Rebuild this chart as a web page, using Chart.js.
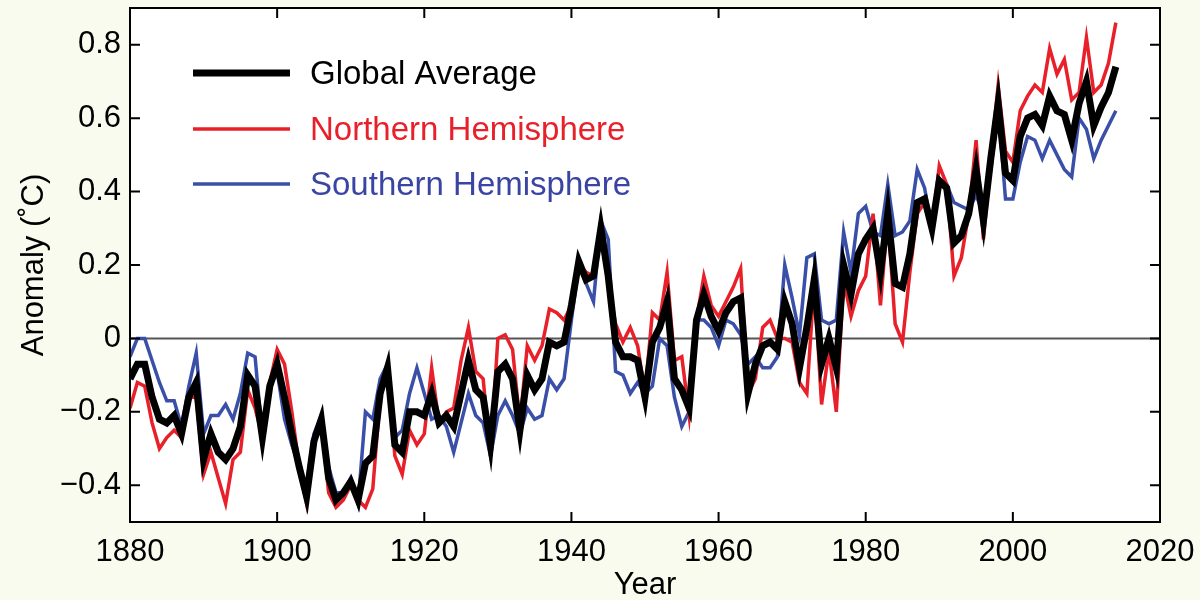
<!DOCTYPE html>
<html>
<head>
<meta charset="utf-8">
<script src="https://cdn.jsdelivr.net/npm/chart.js@4.4.0/dist/chart.umd.min.js"></script>
<style>
  html, body { margin: 0; padding: 0; background: #f9fbef; }
  #wrap { width: 1200px; height: 600px; }
</style>
</head>
<body>
<div id="wrap"><canvas id="anomaly"></canvas></div>
<script>
// annual anomalies, 1880-2014 (deg C)
const firstYear = 1880;
const globalAvg = [
  -0.11, -0.07, -0.07, -0.16, -0.22, -0.23, -0.21, -0.26, -0.16, -0.12,
  -0.33, -0.26, -0.31, -0.33, -0.30, -0.24, -0.10, -0.13, -0.27, -0.13,
  -0.07, -0.16, -0.26, -0.35, -0.43, -0.28, -0.22, -0.38, -0.44, -0.42,
  -0.39, -0.44, -0.34, -0.32, -0.15, -0.08, -0.29, -0.31, -0.20, -0.20,
  -0.21, -0.15, -0.23, -0.21, -0.24, -0.15, -0.06, -0.14, -0.16, -0.29,
  -0.09, -0.07, -0.11, -0.25, -0.10, -0.14, -0.11, -0.01, -0.02, -0.01,
  0.09, 0.21, 0.16, 0.17, 0.30, 0.17, -0.01, -0.05, -0.05, -0.06,
  -0.16, -0.01, 0.03, 0.10, -0.11, -0.14, -0.19, 0.05, 0.12, 0.06,
  0.02, 0.07, 0.10, 0.11, -0.15, -0.07, -0.02, -0.01, -0.03, 0.10,
  0.04, -0.08, 0.03, 0.16, -0.07, 0.00, -0.08, 0.20, 0.12, 0.23,
  0.27, 0.30, 0.18, 0.34, 0.15, 0.14, 0.23, 0.37, 0.38, 0.30,
  0.43, 0.41, 0.26, 0.28, 0.34, 0.46, 0.32, 0.49, 0.64, 0.45,
  0.43, 0.55, 0.60, 0.61, 0.58, 0.66, 0.62, 0.61, 0.54, 0.64,
  0.70, 0.58, 0.63, 0.67, 0.74
];
const northern = [
  -0.19, -0.12, -0.13, -0.23, -0.30, -0.27, -0.25, -0.27, -0.16, -0.16,
  -0.37, -0.31, -0.38, -0.45, -0.33, -0.31, -0.14, -0.19, -0.27, -0.12,
  -0.03, -0.07, -0.20, -0.35, -0.45, -0.29, -0.23, -0.42, -0.46, -0.44,
  -0.40, -0.44, -0.46, -0.41, -0.16, -0.08, -0.32, -0.37, -0.25, -0.29,
  -0.26, -0.08, -0.23, -0.20, -0.19, -0.06, 0.03, -0.09, -0.11, -0.32,
  0.00, 0.01, -0.03, -0.23, -0.02, -0.06, -0.02, 0.08, 0.07, 0.05,
  0.09, 0.20, 0.18, 0.17, 0.29, 0.15, 0.04, -0.01, 0.03, -0.02,
  -0.15, 0.07, 0.05, 0.18, -0.06, -0.05, -0.21, 0.05, 0.17, 0.09,
  0.06, 0.10, 0.14, 0.19, -0.15, -0.11, 0.03, 0.05, 0.00, 0.00,
  -0.01, -0.12, -0.15, 0.15, -0.18, -0.03, -0.20, 0.16, 0.06, 0.13,
  0.17, 0.34, 0.09, 0.33, 0.04, -0.01, 0.18, 0.34, 0.37, 0.30,
  0.47, 0.42, 0.17, 0.22, 0.34, 0.54, 0.27, 0.49, 0.69, 0.51,
  0.48, 0.62, 0.66, 0.69, 0.67, 0.79, 0.72, 0.76, 0.65, 0.67,
  0.82, 0.67, 0.69, 0.75, 0.86
];
const southern = [
  -0.05, 0.00, 0.00, -0.06, -0.12, -0.17, -0.17, -0.24, -0.13, -0.04,
  -0.26, -0.21, -0.21, -0.18, -0.22, -0.15, -0.04, -0.05, -0.27, -0.13,
  -0.09, -0.22, -0.29, -0.35, -0.40, -0.26, -0.21, -0.35, -0.42, -0.42,
  -0.38, -0.45, -0.20, -0.22, -0.11, -0.07, -0.27, -0.25, -0.15, -0.08,
  -0.15, -0.22, -0.21, -0.24, -0.31, -0.23, -0.15, -0.21, -0.23, -0.32,
  -0.21, -0.17, -0.21, -0.26, -0.19, -0.22, -0.21, -0.11, -0.14, -0.11,
  0.05, 0.20, 0.15, 0.10, 0.32, 0.27, -0.09, -0.10, -0.15, -0.12,
  -0.15, -0.13, 0.00, -0.02, -0.16, -0.24, -0.20, 0.05, 0.05, 0.03,
  -0.02, 0.05, 0.04, 0.01, -0.07, -0.05, -0.08, -0.08, -0.05, 0.20,
  0.11, 0.01, 0.22, 0.23, 0.05, 0.04, 0.05, 0.29, 0.18, 0.34,
  0.36, 0.29, 0.28, 0.42, 0.28, 0.29, 0.32, 0.46, 0.41, 0.30,
  0.43, 0.42, 0.37, 0.36, 0.35, 0.39, 0.34, 0.46, 0.63, 0.38,
  0.38, 0.48, 0.55, 0.54, 0.49, 0.54, 0.50, 0.46, 0.44, 0.60,
  0.57, 0.49, 0.54, 0.58, 0.62
];
const years = globalAvg.map((_, i) => firstYear + i);
const xTicks = [1880, 1900, 1920, 1940, 1960, 1980, 2000, 2020];
const yTicks = [-0.4, -0.2, 0, 0.2, 0.4, 0.6, 0.8];

const toPoints = (vals) => vals.map((v, i) => ({ x: years[i], y: v }));
const FONT = "'Liberation Sans', Arial, Helvetica, sans-serif";

// cream page, white plot box
const background = {
  id: "background",
  beforeDraw(chart) {
    const { ctx, chartArea: a } = chart;
    ctx.save();
    ctx.fillStyle = "#f9fbef";
    ctx.fillRect(0, 0, chart.width, chart.height);
    ctx.fillStyle = "#ffffff";
    ctx.fillRect(a.left, a.top, a.right - a.left, a.bottom - a.top);
    ctx.restore();
  },
  beforeDatasetsDraw(chart) {
    const { ctx, chartArea: a, scales } = chart;
    const y0 = scales.y.getPixelForValue(0);
    ctx.save();
    ctx.strokeStyle = "#555555";
    ctx.lineWidth = 2;
    ctx.beginPath();
    ctx.moveTo(a.left, y0);
    ctx.lineTo(a.right, y0);
    ctx.stroke();
    ctx.restore();
  }
};

// matlab style box with inward ticks
const frame = {
  id: "frame",
  afterDatasetsDraw(chart) {
    const { ctx, chartArea: a, scales } = chart;
    const len = 10;
    ctx.save();
    ctx.strokeStyle = "#000";
    ctx.lineWidth = 2;
    ctx.strokeRect(a.left, a.top, a.right - a.left, a.bottom - a.top);
    ctx.beginPath();
    xTicks.forEach((t) => {
      const px = scales.x.getPixelForValue(t);
      ctx.moveTo(px, a.bottom); ctx.lineTo(px, a.bottom - len);
      ctx.moveTo(px, a.top); ctx.lineTo(px, a.top + len);
    });
    yTicks.forEach((t) => {
      const py = scales.y.getPixelForValue(t);
      ctx.moveTo(a.left, py); ctx.lineTo(a.left + len, py);
      ctx.moveTo(a.right, py); ctx.lineTo(a.right - len, py);
    });
    ctx.stroke();
    ctx.restore();
  }
};

const legendBox = {
  id: "legendBox",
  afterDraw(chart) {
    const { ctx } = chart;
    const rows = [73, 129, 184];
    ctx.save();
    ctx.font = "33px " + FONT;
    ctx.textBaseline = "middle";
    chart.data.datasets.forEach((ds, i) => {
      const y = rows[i];
      ctx.strokeStyle = ds.borderColor;
      ctx.lineWidth = ds.borderWidth;
      ctx.beginPath();
      ctx.moveTo(193, y);
      ctx.lineTo(290, y);
      ctx.stroke();
      ctx.fillStyle = ds.legendText;
      ctx.fillText(ds.label, 310, y + 2);
    });
    ctx.restore();
  }
};

const ctx = document.getElementById("anomaly").getContext("2d");
new Chart(ctx, {
  type: "line",
  data: {
    datasets: [
      {
        label: "Global Average",
        data: toPoints(globalAvg),
        borderColor: "#000000",
        legendText: "#000000",
        borderWidth: 7,
        order: 0
      },
      {
        label: "Northern Hemisphere",
        data: toPoints(northern),
        borderColor: "#e8202a",
        legendText: "#e8202a",
        borderWidth: 3.5,
        order: 1
      },
      {
        label: "Southern Hemisphere",
        data: toPoints(southern),
        borderColor: "#3a4fa8",
        legendText: "#3a45a3",
        borderWidth: 3.5,
        order: 2
      }
    ]
  },
  options: {
    responsive: true,
    maintainAspectRatio: false,
    animation: false,
    layout: { padding: { top: 8, right: 40, left: 0, bottom: 0 } },
    elements: {
      line: { tension: 0, borderJoinStyle: "miter" },
      point: { radius: 0, hoverRadius: 0 }
    },
    scales: {
      x: {
        type: "linear",
        min: 1880,
        max: 2020,
        afterBuildTicks: (s) => { s.ticks = xTicks.map((v) => ({ value: v })); },
        afterFit: (s) => {
          s.height = 78;
          s.paddingLeft = 0;
          s.paddingRight = 0;
        },
        grid: { display: false, drawTicks: false },
        border: { display: false },
        ticks: {
          color: "#000",
          padding: 12,
          maxRotation: 0,
          font: { family: FONT, size: 31 },
          callback: (v) => String(v)
        },
        title: {
          display: true,
          text: "Year",
          color: "#000",
          font: { family: FONT, size: 31 },
          padding: { top: 0, bottom: -4 }
        }
      },
      y: {
        min: -0.5,
        max: 0.9,
        afterBuildTicks: (s) => { s.ticks = yTicks.map((v) => ({ value: v })); },
        afterFit: (s) => {
          s.width = 130;
          s.paddingTop = 0;
          s.paddingBottom = 0;
        },
        grid: { display: false, drawTicks: false },
        border: { display: false },
        ticks: {
          color: "#000",
          padding: 9,
          font: { family: FONT, size: 31 },
          callback: (v) => v === 0 ? "0" : (v < 0 ? "\u2212" : "") + Math.abs(v).toFixed(1)
        },
        title: {
          display: true,
          text: "Anomaly (\u02DAC)",
          color: "#000",
          font: { family: FONT, size: 31 },
          padding: { top: 16, bottom: 0 }
        }
      }
    },
    plugins: {
      legend: { display: false },
      tooltip: { enabled: false }
    }
  },
  plugins: [background, frame, legendBox]
});
</script>
</body>
</html>
